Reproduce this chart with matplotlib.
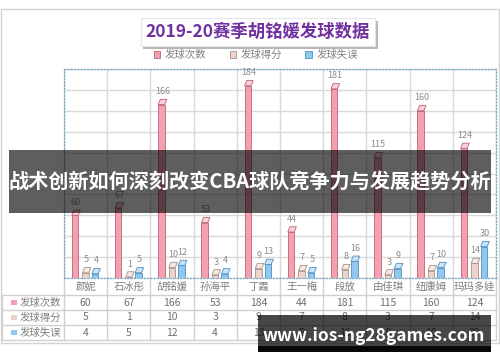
import matplotlib
matplotlib.use("Agg")
import matplotlib.pyplot as plt
from matplotlib import patheffects as pe
from matplotlib.patches import Rectangle, Polygon
import numpy as np

players = ["颜妮", "石冰彤", "胡铭媛", "孙海平", "丁霞", "王一梅", "段放", "由佳琪", "纽康姆", "玛玛多娃"]
serve_attempts = [60, 67, 166, 53, 184, 44, 181, 115, 160, 124]
serve_points = [5, 1, 10, 3, 9, 7, 8, 3, 7, 14]
serve_errors = [4, 5, 12, 4, 13, 5, 16, 9, 10, 30]
series_names = ["发球次数", "发球得分", "发球失误"]
chart_title = "2019-20赛季胡铭媛发球数据"
banner_text = "战术创新如何深刻改变CBA球队竞争力与发展趋势分析"
watermark_text = "www.ios-ng28games.com"

plt.rcParams['font.family'] = ['Noto Sans CJK SC', 'DejaVu Sans']

W, H = 500, 362
fig = plt.figure(figsize=(5, 3.62), dpi=100)
fig.patch.set_facecolor("white")


def px_rect(x0, y0, x1, y1):
    return [x0 / W, 1 - y1 / H, (x1 - x0) / W, (y1 - y0) / H]


# outer chart frame
fig.add_artist(Rectangle((1 / W, 1 - 343 / H), 498 / W, 334 / H, transform=fig.transFigure,
                         fill=False, ec="#d4d4d4", lw=1))

ax_top, ax_bot, ax_left, ax_right = 69, 278, 64, 496
ax = fig.add_axes(px_rect(ax_left, ax_top, ax_right, ax_bot))
n = len(players)
x = np.arange(n)
ax.set_xlim(-0.5, n - 0.5)
ax.set_ylim(0, 200)
ax.set_yticks(np.arange(0, 201, 20))
ax.set_xticks(np.arange(-0.5, n, 1), minor=True)
ax.set_xticks([])
ax.grid(axis="y", color="#d9d9d9", lw=1)
ax.grid(axis="x", which="minor", color="#d9d9d9", lw=1)
ax.set_axisbelow(True)
ax.tick_params(which="both", length=0, labelleft=False, labelbottom=False)
for s in ax.spines.values():
    s.set_linestyle(":")
    s.set_color("#7aa6c4")
    s.set_linewidth(0.9)

series = [serve_attempts, serve_points, serve_errors]
offsets = [-0.245, 0.0, 0.22]
bw = 0.15
faces = ["#f4a0b0", "#ecd3cc", "#90c8f0"]
edges = ["#b86475", "#a89088", "#4f8fc0"]
caps = ["#fbd0d8", "#f6e8e4", "#c8e4f8"]
handles = []
for vals, off, fc, ec, cc, name in zip(series, offsets, faces, edges, caps, series_names):
    b = ax.bar(x + off, vals, width=bw, color=fc, edgecolor=ec, lw=0.6, label=name, zorder=3)
    handles.append(b)
    for xi, v in zip(x + off, vals):
        cap = Polygon([(xi - bw / 2, v), (xi + bw / 2, v), (xi + bw / 2 + 0.05, v + 5),
                       (xi - bw / 2 + 0.05, v + 5)], closed=True, fc=cc, ec=ec, lw=0.6, zorder=3)
        ax.add_patch(cap)
        ax.text(xi + 0.02, v + 8, str(v), ha="center", va="bottom", fontsize=6.5,
                color="#8c8c8c", zorder=4)

# data table under the plot
trans = ax.get_xaxis_transform()


def ay(py):
    return (ax_bot - py) / (ax_bot - ax_top)


def xd(px):
    return (px - ax_left) / ((ax_right - ax_left) / n) - 0.5


grid_c = "#d0d0d0"
for b in np.arange(-0.5, n, 1):
    ax.plot([b, b], [ay(278), ay(340)], transform=trans, color=grid_c, lw=1, clip_on=False)
for py in [295, 310, 325, 340]:
    ax.plot([xd(2), n - 0.5], [ay(py), ay(py)], transform=trans, color=grid_c, lw=1, clip_on=False)
ax.plot([xd(2), xd(2)], [ay(295), ay(340)], transform=trans, color=grid_c, lw=1, clip_on=False)

for i, name in enumerate(players):
    ax.text(i, ay(287), name, transform=trans, ha="center", va="center", fontsize=7.5,
            color="#7f7f7f", clip_on=False)
row_centers = [302.5, 317.5, 332.5]
for vals, fc, name, py in zip(series, faces, series_names, row_centers):
    ax.add_patch(Rectangle((xd(11), ay(py) - 0.013), xd(17) - xd(11), 0.027, transform=trans,
                           fc=fc, ec="none", clip_on=False))
    ax.text(xd(20), ay(py), name, transform=trans, ha="left", va="center", fontsize=7.5,
            color="#7f7f7f", clip_on=False)
    for i, v in enumerate(vals):
        ax.text(i, ay(py), str(v), transform=trans, ha="center", va="center", fontsize=7.5,
                color="#707070", clip_on=False)

# legend
fig.legend(handles=handles, labels=series_names, loc="center", bbox_to_anchor=(256 / W, 1 - 55 / H),
           ncol=3, frameon=False, fontsize=7.5, handlelength=0.6, handleheight=0.6,
           columnspacing=2.2, handletextpad=0.5, labelcolor="#808080")

# title in a shadowed box
t = fig.text(258 / W, 1 - 32 / H, chart_title, ha="center", va="center", fontsize=12.5,
             fontweight="bold", color="#7030a0",
             bbox=dict(boxstyle="square,pad=0.3", fc="white", ec="#e6e6e6", lw=0.8))
t.get_bbox_patch().set_path_effects([pe.SimplePatchShadow(offset=(2, -2), alpha=0.4), pe.Normal()])

# overlay banner
fig.add_artist(Rectangle((9 / W, 1 - 213 / H), 482 / W, 63 / H, transform=fig.transFigure,
                         fc="black", alpha=0.63, ec="none", zorder=10))
fig.text(250 / W, 1 - 182 / H, banner_text, ha="center", va="center", fontsize=14.5,
         fontweight="bold", color="white", zorder=11)

# watermark
fig.add_artist(Rectangle((258 / W, 1 - 352 / H), 233 / W, 37 / H, transform=fig.transFigure,
                         fc="black", alpha=0.72, ec="none", zorder=10))
fig.add_artist(Rectangle((258 / W, 1 - 352 / H), 233 / W, 6 / H, transform=fig.transFigure,
                         fc="black", alpha=0.9, ec="none", zorder=10))
fig.text(374 / W, 1 - 336 / H, watermark_text, ha="center", va="center", fontsize=12.5,
         fontweight="bold", color="white", zorder=11)

fig.savefig("out.png", dpi=100)
plt.close(fig)
